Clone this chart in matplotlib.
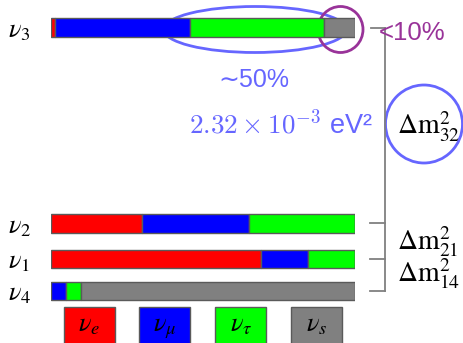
import matplotlib
matplotlib.use("Agg")
import matplotlib.pyplot as plt
from matplotlib.patches import Ellipse, Rectangle
import numpy as np

plt.rcParams["mathtext.fontset"] = "stix"

# Flavour content of each mass eigenstate (fractions of nu_e, nu_mu, nu_tau, nu_s)
states = ["3", "2", "1", "4"]
frac_e = [0.012, 0.30, 0.69, 0.00]
frac_mu = [0.445, 0.35, 0.155, 0.05]
frac_tau = [0.442, 0.35, 0.155, 0.05]
frac_s = [0.101, 0.00, 0.00, 0.90]

flavours = ["e", r"\mu", r"\tau", "s"]
flavour_colors = ["#ff0000", "#0000ff", "#00ff00", "#808080"]

W, H = 464, 343
fig = plt.figure(figsize=(W / 100, H / 100), dpi=100)

# overlay axes in pixel units for labels and brackets
ov = fig.add_axes([0, 0, 1, 1])
ov.set_xlim(0, W)
ov.set_ylim(H, 0)
ov.axis("off")

# bar axes: x in flavour fraction
bar_left, bar_width = 51, 304
ax = fig.add_axes([bar_left / W, 0, bar_width / W, 1])
ax.set_xlim(0, 1)
ax.set_ylim(H, 0)
ax.axis("off")

bar_y = [27.5, 223.3, 259.0, 291.0]
bar_h = 18.5
edge = "#5a5a5a"

fracs = np.array([frac_e, frac_mu, frac_tau, frac_s])
left = np.zeros(len(states))
for k in range(4):
    w = fracs[k]
    ax.barh(bar_y, w, left=left, height=bar_h, color=flavour_colors[k],
            edgecolor=edge, linewidth=1.0)
    left = left + w

# state labels
for s, y in zip(states, bar_y):
    ov.text(8, y + bar_h / 2 + 0.5, rf"$\nu_{s}$", fontsize=19,
            ha="left", va="baseline", color="black")

# flavour legend boxes
box_x = [64, 139, 215.5, 291.5]
box_w = 51
for bx, c, f in zip(box_x, flavour_colors, flavours):
    ov.add_patch(Rectangle((bx, 307), box_w, 40, facecolor=c,
                           edgecolor=edge, linewidth=1.0))
    ov.text(bx + box_w / 2, 331, rf"$\nu_{{{f}}}$", fontsize=19,
            ha="center", va="baseline", color="black")

# mass splitting bracket
gray = "#808080"
ov.plot([371, 385.5], [27.5, 27.5], color=gray, lw=1.3)
ov.plot([385.5, 385.5], [27.5, 291], color=gray, lw=1.3)
for y in [223.3, 259.0, 291.0]:
    ov.plot([370, 385.5], [y, y], color=gray, lw=1.3)

dm_style = dict(fontsize=20, ha="left", va="baseline", color="black")
ov.text(397, 135, r"$\Delta\mathrm{m}^2_{32}$", **dm_style)
ov.text(397, 250, r"$\Delta\mathrm{m}^2_{21}$", **dm_style)
ov.text(397, 282, r"$\Delta\mathrm{m}^2_{14}$", **dm_style)

# highlights
blue = "#6666ff"
purple = "#993399"
ov.add_patch(Ellipse((255, 29.5), 183, 46, fill=False, edgecolor=blue, lw=2))
ov.add_patch(Ellipse((340.5, 29.5), 45, 46, fill=False, edgecolor=purple, lw=2))
ov.add_patch(Ellipse((424, 124), 77, 78, fill=False, edgecolor=blue, lw=2))

ov.text(379, 40, "<10%", fontsize=18.5, color=purple, ha="left", va="baseline",
        family="Liberation Sans")
ov.text(254, 87, "\u223c50%", fontsize=18, color=blue, ha="center",
        va="baseline", family=["Liberation Sans", "DejaVu Sans"])
ov.text(373, 133, r"$2.32\times10^{-3}$ eV²", fontsize=19.5, color=blue,
        ha="right", va="baseline", family="Liberation Sans",
        math_fontfamily="cm")

fig.savefig("out.png", dpi=100)
